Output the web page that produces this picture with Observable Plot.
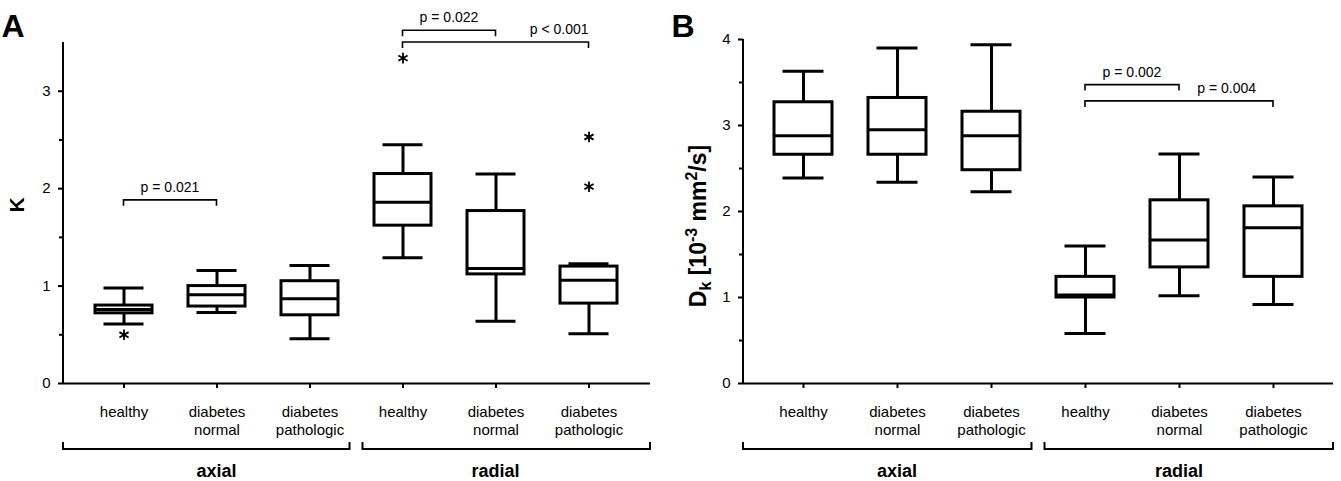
<!DOCTYPE html>
<html><head><meta charset="utf-8">
<script src="https://cdn.jsdelivr.net/npm/d3@7"></script>
<script src="https://cdn.jsdelivr.net/npm/@observablehq/plot@0.6"></script>
<style>
body{margin:0;background:#fff;}
#wrap{display:flex;width:1341px;height:481px;overflow:hidden;}
#wrap svg{display:block;flex:none;}
</style></head><body><div id="wrap"></div>
<script>
// ---------- categories ----------
const groups = ["axial","axial","axial","radial","radial","radial"];
const conditions = ["healthy","diabetes\nnormal","diabetes\npathologic","healthy","diabetes\nnormal","diabetes\npathologic"];
const groupNames = ["axial","radial"];

// ---------- Panel A: K ----------
const kMin = [0.61, 0.73, 0.46, 1.29, 0.64, 0.51];
const kQ1  = [0.72, 0.79, 0.70, 1.62, 1.12, 0.82];
const kMed = [0.76, 0.91, 0.87, 1.86, 1.18, 1.06];
const kQ3  = [0.80, 1.00, 1.05, 2.15, 1.77, 1.20];
const kMax = [0.98, 1.16, 1.21, 2.45, 2.15, 1.23];
const kOutlierCat = [0, 3, 5, 5];
const kOutlierVal = [0.50, 3.34, 2.53, 2.02];
const kTicks = [0, 1, 2, 3];
const kMinorTicks = [0.5, 1.5, 2.5];
const kSigFrom = [0, 3, 3];
const kSigTo = [1, 4, 5];
const kSigLevel = [1.88, 3.62, 3.50];
const kSigText = ["p = 0.021", "p = 0.022", "p < 0.001"];
const kSigAlign = ["middle", "middle", "end"];

// ---------- Panel B: Dk ----------
const dMin = [2.39, 2.34, 2.23, 0.58, 1.02, 0.92];
const dQ1  = [2.66, 2.66, 2.48, 1.00, 1.35, 1.24];
const dMed = [2.88, 2.95, 2.88, 1.03, 1.67, 1.81];
const dQ3  = [3.27, 3.32, 3.16, 1.24, 2.13, 2.06];
const dMax = [3.63, 3.90, 3.94, 1.60, 2.67, 2.40];
const dOutlierCat = [];
const dOutlierVal = [];
const dTicks = [0, 1, 2, 3, 4];
const dMinorTicks = [0.5, 1.5, 2.5, 3.5];
const dSigFrom = [3, 3];
const dSigTo = [4, 5];
const dSigLevel = [3.47, 3.28];
const dSigText = ["p = 0.002", "p = 0.004"];
const dSigAlign = ["middle", "end"];

// ---------- helpers ----------
const keys = groups.map((g, i) => g + "|" + conditions[i]);
const labelOf = new Map(keys.map((k, i) => [k, conditions[i]]));
const FONT = "Liberation Sans, Arial, Helvetica, sans-serif";

function panel(cfg) {
  const boxes = keys.map((k, i) => ({key: k, min: cfg.mn[i], q1: cfg.q1[i], med: cfg.md[i], q3: cfg.q3[i], max: cfg.mx[i]}));
  const outliers = cfg.outCat.map((c, i) => ({key: keys[c], v: cfg.outVal[i]}));
  const sig = cfg.sigFrom.map((f, i) => ({from: keys[f], to: keys[cfg.sigTo[i]], level: cfg.sigLevel[i], text: cfg.sigText[i], align: cfg.sigAlign[i]}));

  const cx = (x, k) => x(k) + x.bandwidth() / 2;

  const axisLine = (index, {y}, values, dims) => {
    const g = d3.create("svg:g");
    g.append("line").attr("x1", dims.marginLeft).attr("x2", dims.marginLeft)
      .attr("y1", dims.marginTop).attr("y2", dims.height - dims.marginBottom)
      .attr("stroke", "black").attr("stroke-width", 2);
    return g.node();
  };

  const sigMark = (index, {x, y}) => {
    const g = d3.create("svg:g");
    for (const s of sig) {
      const x1 = cx(x, s.from), x2 = cx(x, s.to), yy = y(s.level);
      g.append("path").attr("d", `M${x1},${yy + 6}V${yy}H${x2}V${yy + 6}`)
        .attr("fill", "none").attr("stroke", "black").attr("stroke-width", 1.6);
      const tx = s.align === "end" ? x2 - cfg.sigEndInset : (x1 + x2) / 2;
      g.append("text").attr("x", tx).attr("y", yy - 8).attr("text-anchor", s.align)
        .attr("font-size", 14).attr("fill", "black").text(s.text);
    }
    return g.node();
  };

  const groupMark = (index, {x}, values, dims) => {
    const g = d3.create("svg:g");
    const left = dims.marginLeft, right = dims.width - dims.marginRight;
    const yb = dims.height - dims.marginBottom + 66;
    groupNames.forEach((name, gi) => {
      const ks = keys.filter((k, i) => groups[i] === name);
      const prevKs = gi > 0 ? keys.filter((k, i) => groups[i] === groupNames[gi - 1]) : null;
      const nextKs = gi < groupNames.length - 1 ? keys.filter((k, i) => groups[i] === groupNames[gi + 1]) : null;
      const x1 = prevKs ? (cx(x, prevKs[prevKs.length - 1]) + cx(x, ks[0])) / 2 + 6.5 : left;
      const x2 = nextKs ? (cx(x, ks[ks.length - 1]) + cx(x, nextKs[0])) / 2 - 6.5 : right;
      g.append("path").attr("d", `M${x1},${yb - 7}V${yb}H${x2}V${yb - 7}`)
        .attr("fill", "none").attr("stroke", "black").attr("stroke-width", 2);
      const mid = ks[Math.floor(ks.length / 2)];
      g.append("text").attr("x", cx(x, mid)).attr("y", yb + 28).attr("text-anchor", "middle")
        .attr("font-size", 18).attr("font-weight", "bold").attr("fill", "black").text(name);
    });
    return g.node();
  };

  const labelMark = (index, scales, values, dims) => {
    const g = d3.create("svg:g");
    g.append("text").attr("x", 13).attr("y", 37).attr("font-size", 32).attr("font-weight", "bold")
      .attr("fill", "black").text(cfg.letter);
    const t = g.append("text").attr("transform", `translate(${cfg.yLabelX},${cfg.yLabelY}) rotate(-90)`)
      .attr("text-anchor", "middle").attr("font-size", cfg.yLabelSize).attr("font-weight", "bold").attr("fill", "black");
    cfg.yLabel(t);
    return g.node();
  };

  return Plot.plot({
    width: cfg.width, height: 481,
    marginLeft: cfg.ml, marginRight: cfg.mr, marginTop: cfg.mt, marginBottom: 98,
    style: {fontFamily: FONT, fontSize: "15px", color: "black", background: "white", overflow: "visible"},
    x: {type: "band", domain: keys, paddingInner: 0.383, paddingOuter: 0.314, axis: null},
    y: {domain: cfg.yDomain, axis: null},
    marks: [
      Plot.ruleY([0], {stroke: "black", strokeWidth: 2}),
      axisLine,
      Plot.axisY({ticks: cfg.ticks, tickSize: 5, tickPadding: 8, fontSize: 15, label: null, strokeWidth: 2, tickFormat: (d) => String(d)}),
      Plot.axisY({ticks: cfg.minor, tickSize: 4, tickFormat: () => "", label: null, strokeWidth: 2}),
      Plot.axisX({tickSize: 5, tickPadding: 16, tickFormat: (k) => labelOf.get(k), fontSize: 15, lineHeight: 1.2, label: null, strokeWidth: 2}),
      Plot.ruleX(boxes, {x: "key", y1: "min", y2: "max", stroke: "black", strokeWidth: 3}),
      Plot.barY(boxes, {x: "key", y1: "q1", y2: "q3", fill: "white", stroke: "black", strokeWidth: 3}),
      Plot.tickY(boxes, {x: "key", y: "med", stroke: "black", strokeWidth: 3}),
      Plot.tickY(boxes, {x: "key", y: "min", stroke: "black", strokeWidth: 3, insetLeft: 8.5, insetRight: 8.5}),
      Plot.tickY(boxes, {x: "key", y: "max", stroke: "black", strokeWidth: 3, insetLeft: 8.5, insetRight: 8.5}),
      Plot.dot(outliers, {x: "key", y: "v", symbol: "asterisk", r: 5, stroke: "black", strokeWidth: 1.8}),
      sigMark, groupMark, labelMark
    ]
  });
}

const wrap = document.getElementById("wrap");
wrap.append(panel({
  letter: "A", width: 670, ml: 63, mr: 20, mt: 42, yDomain: [0, 3.5],
  mn: kMin, q1: kQ1, md: kMed, q3: kQ3, mx: kMax,
  outCat: kOutlierCat, outVal: kOutlierVal, ticks: kTicks, minor: kMinorTicks,
  sigFrom: kSigFrom, sigTo: kSigTo, sigLevel: kSigLevel, sigText: kSigText, sigAlign: kSigAlign, sigEndInset: 0,
  yLabelX: 24, yLabelY: 205, yLabelSize: 21,
  yLabel: (t) => t.text("K")
}));
wrap.append(panel({
  letter: "B", width: 671, ml: 73, mr: 8, mt: 39, yDomain: [0, 4],
  mn: dMin, q1: dQ1, md: dMed, q3: dQ3, mx: dMax,
  outCat: dOutlierCat, outVal: dOutlierVal, ticks: dTicks, minor: dMinorTicks,
  sigFrom: dSigFrom, sigTo: dSigTo, sigLevel: dSigLevel, sigText: dSigText, sigAlign: dSigAlign, sigEndInset: 17,
  yLabelX: 36, yLabelY: 226, yLabelSize: 23,
  yLabel: (t) => {
    t.append("tspan").text("D");
    t.append("tspan").attr("dy", 5).attr("font-size", 16).text("k");
    t.append("tspan").attr("dy", -5).text(" [10");
    t.append("tspan").attr("dy", -9).attr("font-size", 16).text("-3");
    t.append("tspan").attr("dy", 9).text(" mm");
    t.append("tspan").attr("dy", -9).attr("font-size", 16).text("2");
    t.append("tspan").attr("dy", 9).text("/s]");
  }
}));
</script></body></html>
